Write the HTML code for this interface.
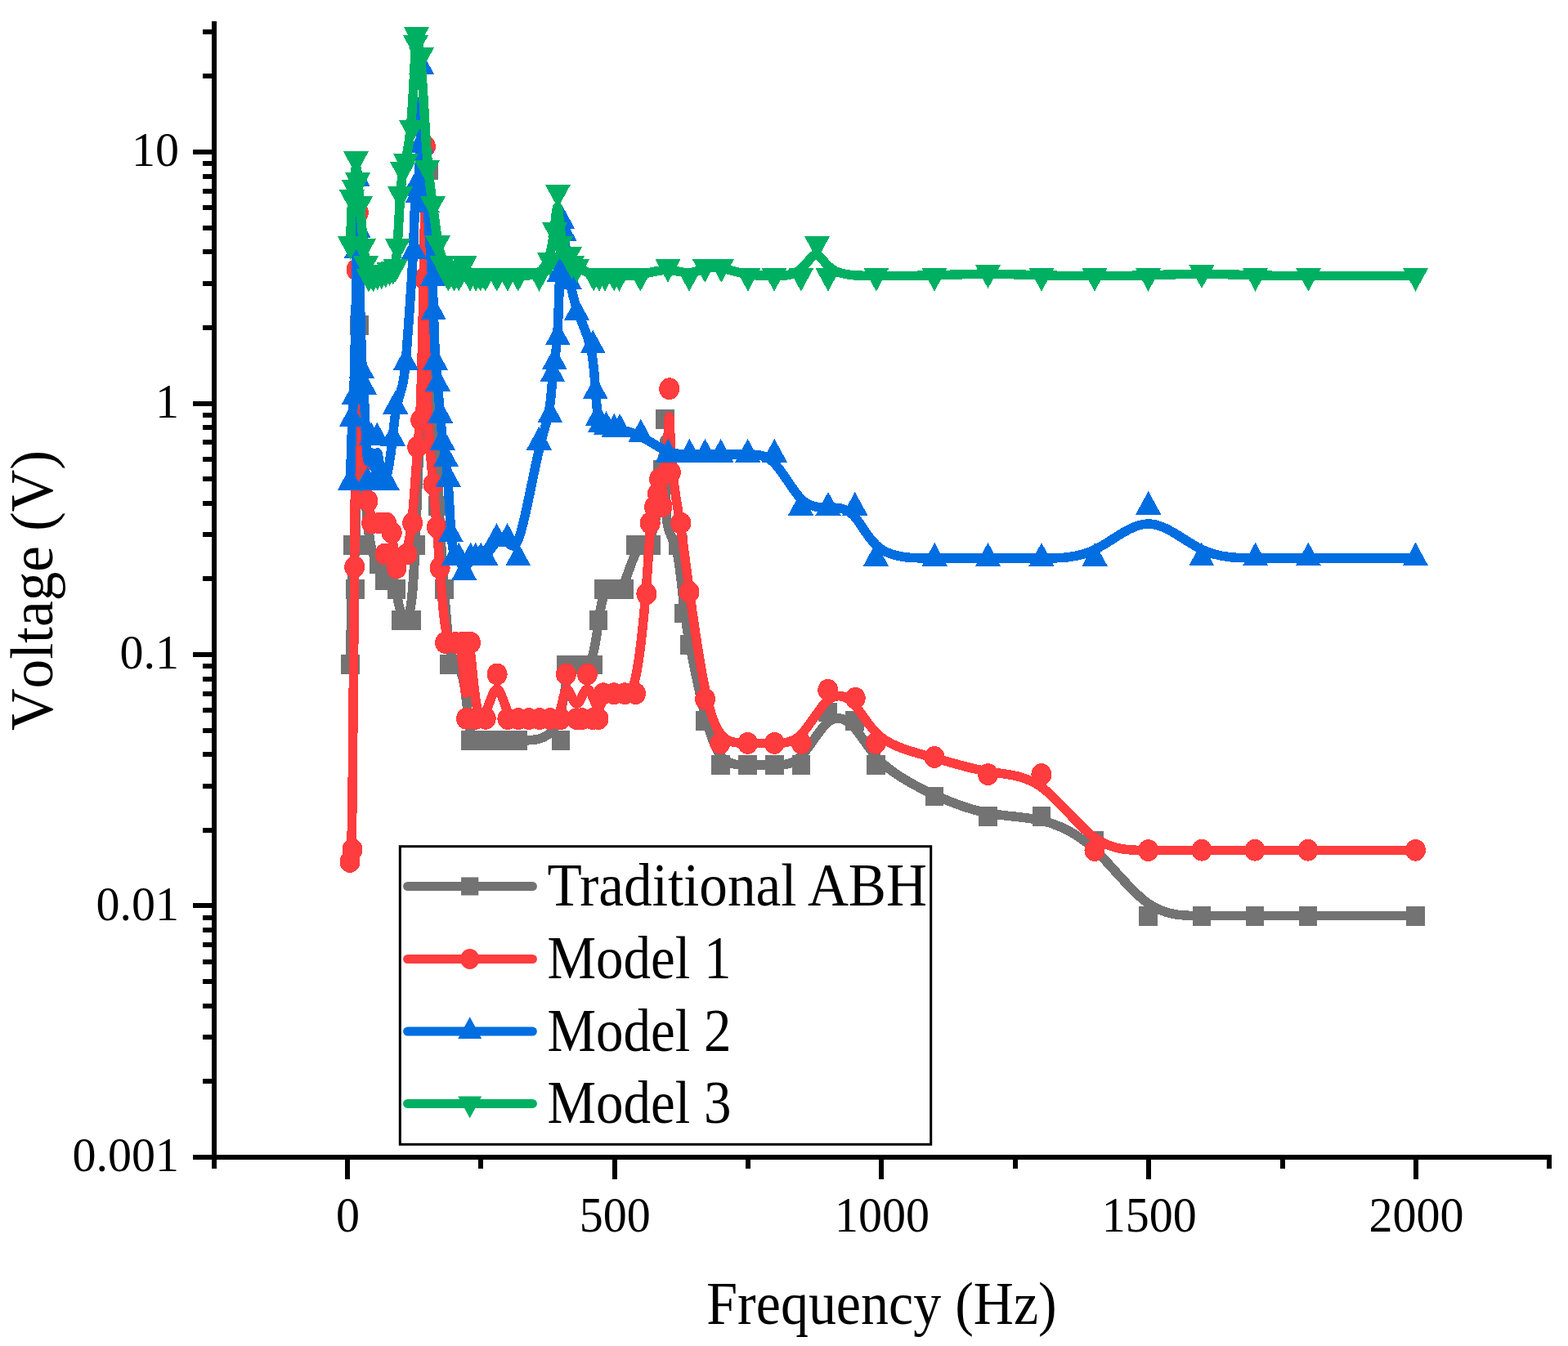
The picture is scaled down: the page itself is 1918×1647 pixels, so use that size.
<!DOCTYPE html>
<html lang="en">
<head>
<meta charset="utf-8">
<title>Voltage vs Frequency</title>
<style>
html,body{margin:0;padding:0;background:#fff;}
body{width:1918px;height:1647px;overflow:hidden;}
svg{display:block;}
</style>
</head>
<body>
<svg width="1918" height="1647" viewBox="0 0 1918 1647">
<rect width="1918" height="1647" fill="#fff"/>
<g id="traditional-abh" shape-rendering="crispEdges">
<path d="M428.4 813.25C429.35 764.47 430.3 715.68 431.32 700.29C432.33 684.9 433.42 702.9 434.78 658.04C436.13 613.18 437.77 505.47 439.85 496.47C441.93 487.47 444.47 577.18 448.4 625.89C452.33 674.6 457.67 682.3 461.5 689.48C465.33 696.67 467.67 703.33 469.83 705.83C472 708.33 474 706.67 476.5 708.48C479 710.3 482 715.6 484.4 724.58C486.8 733.57 488.6 746.23 491.67 752.57C494.73 758.9 499.07 758.9 502.12 743.57C505.18 728.23 506.97 697.57 510.48 605.72C514 513.87 519.25 360.83 523.62 352.81C528 344.78 531.5 481.77 534.71 567.28C537.92 652.8 540.83 686.85 543.23 719.27C545.63 751.68 547.52 782.47 551.23 798.15C554.93 813.83 560.47 814.42 564.23 823.88C568 833.33 570 851.67 571.58 866.82C573.17 881.97 574.33 893.93 577.07 899.92C579.8 905.9 584.1 905.9 588.35 905.9C592.6 905.9 596.8 905.9 601.07 905.9C605.33 905.9 609.67 905.9 614 905.9C618.33 905.9 622.67 905.9 625.9 905.9C629.13 905.9 631.27 905.9 641.1 905.9C650.93 905.9 668.47 905.9 678.3 890.5C688.13 875.1 690.27 844.3 694.1 828.9C697.93 813.5 703.47 813.5 709 813.5C714.53 813.5 720.07 813.5 723.9 804.42C727.73 795.33 729.87 777.17 731.98 761.72C734.1 746.27 736.2 733.53 739.37 727.17C742.53 720.8 746.77 720.8 751 720.8C755.23 720.8 759.47 720.8 763.88 711.82C768.3 702.83 772.9 684.87 778.38 675.88C783.87 666.9 790.23 666.9 795.05 657.9C799.87 648.9 803.13 630.9 805.45 615.58C807.77 600.27 809.13 587.63 810.32 570.97C811.5 554.3 812.5 533.6 813.17 539.6C813.83 545.6 814.17 578.3 814.42 601.15C814.67 624 814.83 637 817.38 646.32C819.93 655.63 824.87 661.27 828.5 678C832.13 694.73 834.47 722.57 836.75 742.87C839.03 763.17 841.27 775.93 845.57 797.9C849.87 819.87 856.23 851.03 862.55 875.6C868.87 900.17 875.13 918.13 883.8 927.12C892.47 936.1 903.53 936.1 914.52 936.1C925.5 936.1 936.4 936.1 947.3 936.1C958.2 936.1 969.1 936.1 979.93 925.33C990.77 914.57 1001.53 893.03 1012.45 884.05C1023.37 875.07 1034.43 878.63 1044.3 889.4C1054.17 900.17 1062.83 918.13 1079.08 933.5C1095.33 948.87 1119.17 961.63 1142 972.12C1164.83 982.6 1186.67 990.8 1208.48 994.9C1230.3 999 1252.1 999 1273.8 1004.02C1295.5 1009.03 1317.1 1019.07 1338.83 1039.35C1360.57 1059.63 1382.43 1090.17 1404.32 1105.42C1426.2 1120.67 1448.1 1120.63 1469.88 1120.62C1491.67 1120.6 1513.33 1120.6 1535 1120.6C1556.67 1120.6 1578.33 1120.6 1611.08 1120.6C1643.83 1120.6 1687.67 1120.6 1731.5 1120.6" fill="none" stroke="#737373" stroke-width="11.5" stroke-linecap="round" stroke-linejoin="round"/>
<path d="M417 801.35h22.8v23.8h-22.8zM419.85 655h22.8v23.8h-22.8zM423.1 709h22.8v23.8h-22.8zM428 385.85h22.8v23.8h-22.8zM435.6 655h22.8v23.8h-22.8zM451.6 678.1h22.8v23.8h-22.8zM458.6 698.1h22.8v23.8h-22.8zM464.6 693.1h22.8v23.8h-22.8zM473.6 709h22.8v23.8h-22.8zM479 747h22.8v23.8h-22.8zM492 747h22.8v23.8h-22.8zM497.35 655h22.8v23.8h-22.8zM513.1 195.9h22.8v23.8h-22.8zM523.6 606.85h22.8v23.8h-22.8zM532.35 709h22.8v23.8h-22.8zM538 801.35h22.8v23.8h-22.8zM564.1 894h22.8v23.8h-22.8zM577 894h22.8v23.8h-22.8zM589.6 894h22.8v23.8h-22.8zM602.6 894h22.8v23.8h-22.8zM615.6 894h22.8v23.8h-22.8zM622 894h22.8v23.8h-22.8zM674.6 894h22.8v23.8h-22.8zM681 801.6h22.8v23.8h-22.8zM697.6 801.6h22.8v23.8h-22.8zM714.2 801.6h22.8v23.8h-22.8zM720.6 747.1h22.8v23.8h-22.8zM726.9 708.9h22.8v23.8h-22.8zM739.6 708.9h22.8v23.8h-22.8zM752.3 708.9h22.8v23.8h-22.8zM766.1 655h22.8v23.8h-22.8zM785.2 655h22.8v23.8h-22.8zM795 601h22.8v23.8h-22.8zM799.1 563.1h22.8v23.8h-22.8zM802.1 501h22.8v23.8h-22.8zM818.4 655h22.8v23.8h-22.8zM825.4 738.5h22.8v23.8h-22.8zM832.1 776.8h22.8v23.8h-22.8zM851.2 870.3h22.8v23.8h-22.8zM870 924.2h22.8v23.8h-22.8zM903.2 924.2h22.8v23.8h-22.8zM935.9 924.2h22.8v23.8h-22.8zM968.6 924.2h22.8v23.8h-22.8zM1000.9 859.6h22.8v23.8h-22.8zM1034.1 870.3h22.8v23.8h-22.8zM1060.1 924.2h22.8v23.8h-22.8zM1131.6 962.5h22.8v23.8h-22.8zM1197.1 987.1h22.8v23.8h-22.8zM1262.5 987.1h22.8v23.8h-22.8zM1327.3 1017.2h22.8v23.8h-22.8zM1392.9 1108.8h22.8v23.8h-22.8zM1458.6 1108.7h22.8v23.8h-22.8zM1523.6 1108.7h22.8v23.8h-22.8zM1588.6 1108.7h22.8v23.8h-22.8zM1720.1 1108.7h22.8v23.8h-22.8z" fill="#737373"/>
</g>
<g id="model-1" shape-rendering="crispEdges">
<path d="M428 1054.4C429 1049.4 430 1044.4 430.96 984.29C431.92 924.18 432.83 808.97 433.67 690.73C434.5 572.5 435.25 451.25 436.03 378.96C436.8 306.67 437.6 283.33 438.27 301.67C438.93 320 439.47 380 440.23 426.67C441 473.33 442 506.67 443.67 535.5C445.33 564.33 447.67 588.67 449.6 605.33C451.53 622 453.07 631 455.57 635.5C458.07 640 461.53 640 464.52 640C467.5 640 470 640 472.37 641.95C474.73 643.9 476.97 647.8 479.05 656.97C481.13 666.13 483.07 680.57 486.2 684.95C489.33 689.33 493.67 683.67 496.96 674.5C500.25 665.33 502.5 652.67 504.6 630.82C506.7 608.97 508.65 577.93 510.29 556.93C511.93 535.93 513.27 524.97 514.57 490.65C515.87 456.33 517.13 398.67 518.12 342.87C519.1 287.07 519.8 233.13 520.15 231.3C520.5 229.47 520.5 279.73 520.58 333.2C520.67 386.67 520.83 443.33 522.42 487.08C524 530.83 527 561.67 529.23 585.83C531.47 610 532.93 627.5 534.28 644.58C535.63 661.67 536.87 678.33 538.57 701.9C540.27 725.47 542.43 755.93 545.58 771.17C548.73 786.4 552.87 786.4 556.27 786.4C559.67 786.4 562.33 786.4 564.58 801.88C566.83 817.37 568.67 848.33 569.67 848.33C570.67 848.33 570.83 817.37 571.67 801.88C572.5 786.4 574 786.4 575.88 801.88C577.77 817.37 580.03 848.33 583.15 863.82C586.27 879.3 590.23 879.3 594.53 870.25C598.83 861.2 603.47 843.1 607.92 843.15C612.37 843.2 616.63 861.4 620.95 870.5C625.27 879.6 629.63 879.6 633.98 879.6C638.33 879.6 642.67 879.6 647 879.6C651.33 879.6 655.67 879.6 660 879.6C664.33 879.6 668.67 879.6 673 879.6C677.33 879.6 681.67 879.6 684.9 870.5C688.13 861.4 690.27 843.2 693.5 843.2C696.73 843.2 701.07 861.4 705.38 861.4C709.7 861.4 714 843.2 718.43 843.2C722.87 843.2 727.43 861.4 730.68 865.35C733.93 869.3 735.87 859 739.03 853.85C742.2 848.7 746.6 848.7 751.02 848.7C755.43 848.7 759.87 848.7 764.28 848.7C768.7 848.7 773.1 848.7 777.53 828.38C781.97 808.07 786.43 767.43 789.38 732.65C792.33 697.87 793.77 668.93 795.37 651.2C796.97 633.47 798.73 626.93 800.28 620.93C801.83 614.93 803.17 609.47 804.18 603.78C805.2 598.1 805.9 592.2 807.87 587.85C809.83 583.5 813.07 580.7 815.08 562.27C817.1 543.83 817.9 509.77 818.58 509.77C819.27 509.77 819.83 543.83 822.18 571.22C824.53 598.6 828.67 619.3 832.43 643.7C836.2 668.1 839.6 696.2 844.55 732.1C849.5 768 856 811.7 862.32 842.55C868.63 873.4 874.77 891.4 883.45 900.4C892.13 909.4 903.37 909.4 914.43 909.4C925.5 909.4 936.4 909.4 947.33 909.4C958.27 909.4 969.23 909.4 980.15 898.55C991.07 887.7 1001.93 866 1012.93 856.82C1023.93 847.63 1035.07 850.97 1044.8 861.82C1054.53 872.67 1062.87 891.03 1079 903.05C1095.13 915.07 1119.07 920.73 1141.95 927.1C1164.83 933.47 1186.67 940.53 1208.48 944.07C1230.3 947.6 1252.1 947.6 1273.85 963.1C1295.6 978.6 1317.3 1009.6 1339.08 1025.1C1360.87 1040.6 1382.73 1040.6 1404.57 1040.54C1426.4 1040.48 1448.2 1040.37 1469.93 1040.31C1491.67 1040.25 1513.33 1040.25 1535 1040.25C1556.67 1040.25 1578.33 1040.25 1611.08 1040.25C1643.83 1040.25 1687.67 1040.25 1731.5 1040.25" fill="none" stroke="#ff3c3e" stroke-width="11.5" stroke-linecap="round" stroke-linejoin="round"/>
<path d="M415.5 1054.4a12.5 13.4 0 1 0 25 0a12.5 13.4 0 1 0 -25 0zM418.5 1039.4a12.5 13.4 0 1 0 25 0a12.5 13.4 0 1 0 -25 0zM421.25 693.75a12.5 13.4 0 1 0 25 0a12.5 13.4 0 1 0 -25 0zM423.5 330a12.5 13.4 0 1 0 25 0a12.5 13.4 0 1 0 -25 0zM425.9 260a12.5 13.4 0 1 0 25 0a12.5 13.4 0 1 0 -25 0zM437.5 613a12.5 13.4 0 1 0 25 0a12.5 13.4 0 1 0 -25 0zM442.1 640a12.5 13.4 0 1 0 25 0a12.5 13.4 0 1 0 -25 0zM452.5 640a12.5 13.4 0 1 0 25 0a12.5 13.4 0 1 0 -25 0zM460 640a12.5 13.4 0 1 0 25 0a12.5 13.4 0 1 0 -25 0zM466.7 651.7a12.5 13.4 0 1 0 25 0a12.5 13.4 0 1 0 -25 0zM458.5 678a12.5 13.4 0 1 0 25 0a12.5 13.4 0 1 0 -25 0zM472.5 695a12.5 13.4 0 1 0 25 0a12.5 13.4 0 1 0 -25 0zM485.5 678a12.5 13.4 0 1 0 25 0a12.5 13.4 0 1 0 -25 0zM492.25 640a12.5 13.4 0 1 0 25 0a12.5 13.4 0 1 0 -25 0zM498.1 546.9a12.5 13.4 0 1 0 25 0a12.5 13.4 0 1 0 -25 0zM502.1 514a12.5 13.4 0 1 0 25 0a12.5 13.4 0 1 0 -25 0zM505.9 341a12.5 13.4 0 1 0 25 0a12.5 13.4 0 1 0 -25 0zM508 179.2a12.5 13.4 0 1 0 25 0a12.5 13.4 0 1 0 -25 0zM517.5 592.5a12.5 13.4 0 1 0 25 0a12.5 13.4 0 1 0 -25 0zM521.9 645a12.5 13.4 0 1 0 25 0a12.5 13.4 0 1 0 -25 0zM525.6 695a12.5 13.4 0 1 0 25 0a12.5 13.4 0 1 0 -25 0zM532.1 786.4a12.5 13.4 0 1 0 25 0a12.5 13.4 0 1 0 -25 0zM544.5 786.4a12.5 13.4 0 1 0 25 0a12.5 13.4 0 1 0 -25 0zM552.5 786.4a12.5 13.4 0 1 0 25 0a12.5 13.4 0 1 0 -25 0zM558 879.3a12.5 13.4 0 1 0 25 0a12.5 13.4 0 1 0 -25 0zM558.5 786.4a12.5 13.4 0 1 0 25 0a12.5 13.4 0 1 0 -25 0zM563 786.4a12.5 13.4 0 1 0 25 0a12.5 13.4 0 1 0 -25 0zM569.8 879.3a12.5 13.4 0 1 0 25 0a12.5 13.4 0 1 0 -25 0zM581.7 879.3a12.5 13.4 0 1 0 25 0a12.5 13.4 0 1 0 -25 0zM595.6 825a12.5 13.4 0 1 0 25 0a12.5 13.4 0 1 0 -25 0zM608.4 879.6a12.5 13.4 0 1 0 25 0a12.5 13.4 0 1 0 -25 0zM621.5 879.6a12.5 13.4 0 1 0 25 0a12.5 13.4 0 1 0 -25 0zM634.5 879.6a12.5 13.4 0 1 0 25 0a12.5 13.4 0 1 0 -25 0zM647.5 879.6a12.5 13.4 0 1 0 25 0a12.5 13.4 0 1 0 -25 0zM660.5 879.6a12.5 13.4 0 1 0 25 0a12.5 13.4 0 1 0 -25 0zM673.5 879.6a12.5 13.4 0 1 0 25 0a12.5 13.4 0 1 0 -25 0zM679.9 825a12.5 13.4 0 1 0 25 0a12.5 13.4 0 1 0 -25 0zM692.9 879.6a12.5 13.4 0 1 0 25 0a12.5 13.4 0 1 0 -25 0zM699.5 879.6a12.5 13.4 0 1 0 25 0a12.5 13.4 0 1 0 -25 0zM705.8 825a12.5 13.4 0 1 0 25 0a12.5 13.4 0 1 0 -25 0zM712.5 879.6a12.5 13.4 0 1 0 25 0a12.5 13.4 0 1 0 -25 0zM719.5 879.6a12.5 13.4 0 1 0 25 0a12.5 13.4 0 1 0 -25 0zM725.3 848.7a12.5 13.4 0 1 0 25 0a12.5 13.4 0 1 0 -25 0zM738.5 848.7a12.5 13.4 0 1 0 25 0a12.5 13.4 0 1 0 -25 0zM751.8 848.7a12.5 13.4 0 1 0 25 0a12.5 13.4 0 1 0 -25 0zM765 848.7a12.5 13.4 0 1 0 25 0a12.5 13.4 0 1 0 -25 0zM778.4 726.8a12.5 13.4 0 1 0 25 0a12.5 13.4 0 1 0 -25 0zM782.7 640a12.5 13.4 0 1 0 25 0a12.5 13.4 0 1 0 -25 0zM788 620.4a12.5 13.4 0 1 0 25 0a12.5 13.4 0 1 0 -25 0zM792 604a12.5 13.4 0 1 0 25 0a12.5 13.4 0 1 0 -25 0zM794.1 586.3a12.5 13.4 0 1 0 25 0a12.5 13.4 0 1 0 -25 0zM797.5 619.8a12.5 13.4 0 1 0 25 0a12.5 13.4 0 1 0 -25 0zM803.8 577.9a12.5 13.4 0 1 0 25 0a12.5 13.4 0 1 0 -25 0zM806.2 475.7a12.5 13.4 0 1 0 25 0a12.5 13.4 0 1 0 -25 0zM807.9 577.9a12.5 13.4 0 1 0 25 0a12.5 13.4 0 1 0 -25 0zM820.3 640a12.5 13.4 0 1 0 25 0a12.5 13.4 0 1 0 -25 0zM830.5 724.3a12.5 13.4 0 1 0 25 0a12.5 13.4 0 1 0 -25 0zM850 855.4a12.5 13.4 0 1 0 25 0a12.5 13.4 0 1 0 -25 0zM868.4 909.4a12.5 13.4 0 1 0 25 0a12.5 13.4 0 1 0 -25 0zM902.1 909.4a12.5 13.4 0 1 0 25 0a12.5 13.4 0 1 0 -25 0zM934.8 909.4a12.5 13.4 0 1 0 25 0a12.5 13.4 0 1 0 -25 0zM967.7 909.4a12.5 13.4 0 1 0 25 0a12.5 13.4 0 1 0 -25 0zM1000.3 844.3a12.5 13.4 0 1 0 25 0a12.5 13.4 0 1 0 -25 0zM1033.7 854.3a12.5 13.4 0 1 0 25 0a12.5 13.4 0 1 0 -25 0zM1058.7 909.4a12.5 13.4 0 1 0 25 0a12.5 13.4 0 1 0 -25 0zM1130.5 926.4a12.5 13.4 0 1 0 25 0a12.5 13.4 0 1 0 -25 0zM1196 947.6a12.5 13.4 0 1 0 25 0a12.5 13.4 0 1 0 -25 0zM1261.4 947.6a12.5 13.4 0 1 0 25 0a12.5 13.4 0 1 0 -25 0zM1326.5 1040.6a12.5 13.4 0 1 0 25 0a12.5 13.4 0 1 0 -25 0zM1392.1 1040.6a12.5 13.4 0 1 0 25 0a12.5 13.4 0 1 0 -25 0zM1457.5 1040.25a12.5 13.4 0 1 0 25 0a12.5 13.4 0 1 0 -25 0zM1522.5 1040.25a12.5 13.4 0 1 0 25 0a12.5 13.4 0 1 0 -25 0zM1587.5 1040.25a12.5 13.4 0 1 0 25 0a12.5 13.4 0 1 0 -25 0zM1719 1040.25a12.5 13.4 0 1 0 25 0a12.5 13.4 0 1 0 -25 0z" fill="#ff3c3e"/>
</g>
<g id="model-2" shape-rendering="crispEdges">
<path d="M428.5 590.1C429.2 564.07 429.9 538.03 430.73 520.52C431.57 503 432.53 494 433.5 459.7C434.47 425.4 435.43 365.8 436.08 321.45C436.73 277.1 437.07 248 437.36 243.91C437.65 239.82 437.9 260.73 438.72 299.77C439.53 338.8 440.92 395.95 442.11 427.84C443.3 459.73 444.3 466.37 445.5 489.2C446.7 512.03 448.1 551.07 449.58 561.53C451.07 572 452.63 553.9 453.97 553.9C455.3 553.9 456.4 572 457.57 572C458.75 572 460 553.9 461.42 553.9C462.83 553.9 464.42 572 466.4 581.05C468.38 590.1 470.77 590.1 473.22 581.17C475.67 572.23 478.18 554.37 479.92 538.85C481.67 523.33 482.63 510.17 484.85 499.08C487.07 488 490.53 479 492.67 470.02C494.8 461.03 495.6 452.07 497.67 424.92C499.73 397.77 503.07 352.43 504.9 316.93C506.73 281.43 507.07 255.77 507.92 244.25C508.77 232.73 510.13 235.37 511.35 226.53C512.57 217.7 513.63 197.4 514.3 171.28C514.97 145.17 515.23 113.23 516.45 125.38C517.67 137.53 519.83 193.77 522.13 236.95C524.43 280.13 526.87 310.27 528.25 332.21C529.63 354.15 529.97 367.9 530.48 385.02C531 402.13 531.7 422.62 532.55 437.21C533.4 451.8 534.4 460.5 535.42 471.32C536.43 482.13 537.47 495.07 538.44 507.03C539.42 519 540.33 530 541.5 538.93C542.67 547.87 544.08 554.73 545.25 562.23C546.42 569.73 547.33 577.87 548.32 593.23C549.3 608.6 550.35 631.2 551.52 647.35C552.68 663.5 553.97 673.2 555.61 678.05C557.25 682.9 559.25 682.9 561.33 685.82C563.42 688.73 565.58 694.57 567.98 694.57C570.37 694.57 572.98 688.73 575.29 685.82C577.6 682.9 579.6 682.9 581.68 682.9C583.77 682.9 585.93 682.9 588.02 682.9C590.1 682.9 592.1 682.9 595.33 678.95C598.57 675 603.03 667.1 607.45 663.15C611.87 659.2 616.23 659.2 620.61 663.15C624.98 667.1 629.37 675 635.83 655.3C642.3 635.6 650.85 588.3 657.38 559.13C663.9 529.97 668.4 518.93 671.15 505.08C673.9 491.23 674.9 474.57 675.82 463.73C676.73 452.9 677.57 447.9 678.65 440.4C679.73 432.9 681.07 422.9 682.08 404.92C683.1 386.93 683.8 360.97 684.63 337.15C685.47 313.33 686.43 291.67 687.4 283.48C688.37 275.3 689.33 280.6 690.83 293.05C692.33 305.5 694.37 325.1 696.9 341.17C699.43 357.23 702.47 369.77 707.27 382.8C712.08 395.83 718.67 409.37 722.46 425.47C726.25 441.57 727.25 460.23 728.25 475.03C729.25 489.82 730.25 500.73 731.27 507.55C732.3 514.37 733.35 517.08 735.07 518.86C736.8 520.63 739.2 521.47 742.01 522.37C744.82 523.27 748.03 524.23 750.78 524.72C753.53 525.2 755.82 525.2 761.23 526.32C766.65 527.43 775.2 529.67 785.06 534.8C794.92 539.93 806.08 547.97 816.02 551.98C825.97 556 834.68 556 842.23 556C849.77 556 856.13 556 862.5 556C868.87 556 875.23 556 883.92 556C892.6 556 903.6 556 914.55 556C925.5 556 936.4 556 947.22 566.83C958.03 577.67 968.77 599.33 979.72 610.17C990.67 621 1001.83 621 1012.88 621C1023.93 621 1034.87 621 1044.6 631.35C1054.33 641.7 1062.87 662.4 1079.1 672.75C1095.33 683.1 1119.27 683.1 1142.12 683.1C1164.97 683.1 1186.73 683.1 1208.53 683.1C1230.33 683.1 1252.17 683.1 1273.93 683.1C1295.7 683.1 1317.4 683.1 1339.18 672.58C1360.97 662.07 1382.83 641.03 1404.62 640.98C1426.4 640.93 1448.1 661.87 1469.92 672.33C1491.73 682.8 1513.67 682.8 1535.43 682.8C1557.2 682.8 1578.8 682.8 1611.45 682.8C1644.1 682.8 1687.8 682.8 1731.5 682.8" fill="none" stroke="#006ee1" stroke-width="11.5" stroke-linecap="round" stroke-linejoin="round"/>
<path d="M428.5 570.93L444.1 599.68L412.9 599.68zM430.6 492.83L446.2 521.58L415 521.58zM433.5 465.83L449.1 494.58L417.9 494.58zM436.4 287.03L452 315.78L420.8 315.78zM437.4 199.73L453 228.48L421.8 228.48zM438.15 262.48L453.75 291.23L422.55 291.23zM442.3 433.93L457.9 462.68L426.7 462.68zM445.3 453.83L460.9 482.58L429.7 482.58zM449.5 570.93L465.1 599.68L433.9 599.68zM454.2 516.63L469.8 545.38L438.6 545.38zM457.5 570.93L473.1 599.68L441.9 599.68zM461.25 516.63L476.85 545.38L445.65 545.38zM466 570.93L481.6 599.68L450.4 599.68zM473.15 570.93L488.75 599.68L457.55 599.68zM480.7 517.33L496.3 546.08L465.1 546.08zM483.6 477.83L499.2 506.58L468 506.58zM496.4 423.93L512 452.68L480.8 452.68zM506.4 287.93L522 316.68L490.8 316.68zM507.4 210.93L523 239.68L491.8 239.68zM511.5 218.83L527.1 247.58L495.9 247.58zM514.7 157.93L530.3 186.68L499.1 186.68zM515.5 62.13L531.1 90.88L499.9 90.88zM522 230.83L537.6 259.58L506.4 259.58zM529.3 321.23L544.9 349.98L513.7 349.98zM530.3 362.48L545.9 391.23L514.7 391.23zM532.4 423.93L548 452.68L516.8 452.68zM535.4 450.03L551 478.78L519.8 478.78zM538.5 488.83L554.1 517.58L522.9 517.58zM541.25 521.83L556.85 550.58L525.65 550.58zM545.5 542.43L561.1 571.18L529.9 571.18zM548.25 566.83L563.85 595.58L532.65 595.58zM551.4 634.63L567 663.38L535.8 663.38zM555.25 663.73L570.85 692.48L539.65 692.48zM561.25 663.73L576.85 692.48L545.65 692.48zM567.75 681.23L583.35 709.98L552.15 709.98zM575.6 663.73L591.2 692.48L560 692.48zM581.6 663.73L597.2 692.48L566 692.48zM588.1 663.73L603.7 692.48L572.5 692.48zM594.1 663.73L609.7 692.48L578.5 692.48zM607.5 640.03L623.1 668.78L591.9 668.78zM620.6 640.03L636.2 668.78L605 668.78zM633.75 663.73L649.35 692.48L618.15 692.48zM659.4 521.83L675 550.58L643.8 550.58zM672.9 488.73L688.5 517.48L657.3 517.48zM675.9 438.73L691.5 467.48L660.3 467.48zM678.4 423.73L694 452.48L662.8 452.48zM682.4 393.73L698 422.48L666.8 422.48zM684.5 315.83L700.1 344.58L668.9 344.58zM687.4 250.83L703 279.58L671.8 279.58zM690.3 266.73L705.9 295.48L674.7 295.48zM696.4 325.53L712 354.28L680.8 354.28zM705.5 363.13L721.1 391.88L689.9 391.88zM725.25 403.73L740.85 432.48L709.65 432.48zM728.25 459.73L743.85 488.48L712.65 488.48zM731.25 492.48L746.85 521.23L715.65 521.23zM734.4 500.63L750 529.38L718.8 529.38zM741.6 503.13L757.2 531.88L726 531.88zM751.25 506.03L766.85 534.78L735.65 534.78zM758.1 506.03L773.7 534.78L742.5 534.78zM783.75 512.73L799.35 541.48L768.15 541.48zM817.25 536.83L832.85 565.58L801.65 565.58zM843.4 536.83L859 565.58L827.8 565.58zM862.5 536.83L878.1 565.58L846.9 565.58zM881.6 536.83L897.2 565.58L866 565.58zM914.6 536.83L930.2 565.58L899 565.58zM947.3 536.83L962.9 565.58L931.7 565.58zM979.5 601.83L995.1 630.58L963.9 630.58zM1013 601.83L1028.6 630.58L997.4 630.58zM1045.8 601.83L1061.4 630.58L1030.2 630.58zM1071.4 663.93L1087 692.68L1055.8 692.68zM1143.2 663.93L1158.8 692.68L1127.6 692.68zM1208.5 663.93L1224.1 692.68L1192.9 692.68zM1274 663.93L1289.6 692.68L1258.4 692.68zM1339.1 663.93L1354.7 692.68L1323.5 692.68zM1404.7 600.83L1420.3 629.58L1389.1 629.58zM1469.8 663.63L1485.4 692.38L1454.2 692.38zM1535.6 663.63L1551.2 692.38L1520 692.38zM1600.4 663.63L1616 692.38L1584.8 692.38zM1731.5 663.63L1747.1 692.38L1715.9 692.38z" fill="#006ee1"/>
</g>
<g id="model-3" shape-rendering="crispEdges">
<path d="M428.5 298.8C429.13 279.8 429.77 260.8 430.58 249.3C431.4 237.8 432.4 233.8 433.23 225.93C434.07 218.07 434.73 206.33 435.42 204.82C436.1 203.3 436.8 212 437.65 221.18C438.5 230.37 439.5 240.03 440.65 253.53C441.8 267.03 443.1 284.37 444.25 296.53C445.4 308.7 446.4 315.7 447.48 321.82C448.57 327.93 449.73 333.17 451.28 335.78C452.83 338.4 454.77 338.4 456.57 338.08C458.37 337.77 460.03 337.13 461.7 336.57C463.37 336 465.03 335.5 466.7 334.98C468.37 334.47 470.03 333.93 471.67 333.27C473.3 332.6 474.9 331.8 476.43 331.1C477.97 330.4 479.43 329.8 480.67 329.02C481.9 328.23 482.9 327.27 483.82 322.68C484.73 318.1 485.57 309.9 486.48 295.12C487.4 280.33 488.4 258.97 489.43 243.3C490.47 227.63 491.53 217.67 492.7 210.98C493.87 204.3 495.13 200.9 496.97 192.38C498.8 183.87 501.2 170.23 503.2 146.07C505.2 121.9 506.8 87.2 507.77 68.18C508.73 49.17 509.07 45.83 510.25 48.33C511.43 50.83 513.47 59.17 515.63 86.33C517.8 113.5 520.1 159.5 522.42 189.87C524.73 220.23 527.07 234.97 529.23 250.33C531.4 265.7 533.4 281.7 535.35 293.87C537.3 306.03 539.2 314.37 542.47 319.17C545.73 323.97 550.37 325.23 554.87 325.23C559.37 325.23 563.73 323.97 567.07 325.8C570.4 327.63 572.7 332.57 575 335.03C577.3 337.5 579.6 337.5 581.73 337.5C583.85 337.5 585.8 337.5 587.77 337.5C589.75 337.5 591.75 337.5 595.08 337.5C598.42 337.5 603.08 337.5 607.61 337.5C612.13 337.5 616.52 337.5 620.85 337.5C625.18 337.5 629.47 337.5 635.92 337.5C642.37 337.5 650.98 337.5 657.44 334.37C663.9 331.23 668.2 324.97 671.35 315.65C674.5 306.33 676.5 293.97 678.15 280.08C679.8 266.2 681.1 250.8 682.27 253.6C683.43 256.4 684.47 277.4 686.8 290.12C689.13 302.85 692.77 307.3 695.1 311.33C697.43 315.37 698.47 318.98 700 321.46C701.53 323.93 703.57 325.27 708.02 327.75C712.48 330.23 719.37 333.87 723.95 335.68C728.53 337.5 730.82 337.5 733.11 337.5C735.4 337.5 737.7 337.5 740.73 337.5C743.75 337.5 747.5 337.5 750.42 337.5C753.33 337.5 755.42 337.5 760.76 337.5C766.1 337.5 774.7 337.5 784.62 335.7C794.53 333.9 805.77 330.3 815.72 330.3C825.67 330.3 834.33 333.9 841.88 333.9C849.43 333.9 855.87 330.3 862.42 328.5C868.97 326.7 875.63 326.7 884.4 328.5C893.17 330.3 904.03 333.9 914.82 335.7C925.6 337.5 936.3 337.5 947.12 337.5C957.93 337.5 968.87 337.5 977.62 331C986.37 324.5 992.93 311.5 998.45 311.5C1003.97 311.5 1008.43 324.5 1020.48 331C1032.53 337.5 1052.17 337.5 1073.85 337.5C1095.53 337.5 1119.27 337.5 1142.05 336.9C1164.83 336.3 1186.67 335.1 1208.5 335.1C1230.33 335.1 1252.17 336.3 1273.92 336.9C1295.67 337.5 1317.33 337.5 1339.1 337.5C1360.87 337.5 1382.73 337.5 1404.57 336.9C1426.4 336.3 1448.2 335.1 1470.03 335.1C1491.87 335.1 1513.73 336.3 1535.47 336.9C1557.2 337.5 1578.8 337.5 1611.45 337.5C1644.1 337.5 1687.8 337.5 1731.5 337.5" fill="none" stroke="#00b062" stroke-width="11.5" stroke-linecap="round" stroke-linejoin="round"/>
<path d="M412.9 289.22L444.1 289.22L428.5 317.97zM414.8 232.22L446 232.22L430.4 260.97zM417.8 220.22L449 220.22L433.4 248.97zM419.8 185.02L451 185.02L435.4 213.77zM421.9 211.12L453.1 211.12L437.5 239.87zM424.9 240.12L456.1 240.12L440.5 268.87zM428.8 292.12L460 292.12L444.4 320.87zM431.8 313.12L463 313.12L447.4 341.87zM435.3 328.82L466.5 328.82L450.9 357.57zM441.1 328.82L472.3 328.82L456.7 357.57zM446.1 326.92L477.3 326.92L461.7 355.67zM451.1 325.42L482.3 325.42L466.7 354.17zM456.1 323.82L487.3 323.82L471.7 352.57zM460.9 321.42L492.1 321.42L476.5 350.17zM465.3 319.62L496.5 319.62L480.9 348.37zM468.3 316.72L499.5 316.72L483.9 345.47zM470.8 292.12L502 292.12L486.4 320.87zM473.8 228.02L505 228.02L489.4 256.77zM477 198.12L508.2 198.12L492.6 226.87zM480.8 187.92L512 187.92L496.4 216.67zM488 147.02L519.2 147.02L503.6 175.77zM492.8 42.92L524 42.92L508.4 71.67zM493.8 32.92L525 32.92L509.4 61.67zM499.9 57.92L531.1 57.92L515.5 86.67zM506.8 195.92L538 195.92L522.4 224.67zM513.8 240.12L545 240.12L529.4 268.87zM519.8 288.12L551 288.12L535.4 316.87zM525.5 313.12L556.7 313.12L541.1 341.87zM532.7 327.92L563.9 327.92L548.3 356.67zM539.8 327.92L571 327.92L555.4 356.67zM545.65 327.92L576.85 327.92L561.25 356.67zM552.5 313.12L583.7 313.12L568.1 341.87zM559.4 327.92L590.6 327.92L575 356.67zM566.3 327.92L597.5 327.92L581.9 356.67zM572.15 327.92L603.35 327.92L587.75 356.67zM578.15 327.92L609.35 327.92L593.75 356.67zM592.15 327.92L623.35 327.92L607.75 356.67zM605.3 327.92L636.5 327.92L620.9 356.67zM618.15 327.92L649.35 327.92L633.75 356.67zM644 327.92L675.2 327.92L659.6 356.67zM656.9 309.12L688.1 309.12L672.5 337.87zM662.9 272.02L694.1 272.02L678.5 300.77zM666.8 225.82L698 225.82L682.4 254.57zM669.9 288.82L701.1 288.82L685.5 317.57zM680.8 302.17L712 302.17L696.4 330.92zM683.9 313.02L715.1 313.02L699.5 341.77zM690 317.02L721.2 317.02L705.6 345.77zM710.65 327.92L741.85 327.92L726.25 356.67zM717.5 327.92L748.7 327.92L733.1 356.67zM724.4 327.92L755.6 327.92L740 356.67zM735.65 327.92L766.85 327.92L751.25 356.67zM741.9 327.92L773.1 327.92L757.5 356.67zM767.7 327.92L798.9 327.92L783.3 356.67zM801.4 317.12L832.6 317.12L817 345.87zM827.4 327.92L858.6 327.92L843 356.67zM846.7 317.12L877.9 317.12L862.3 345.87zM866.7 317.12L897.9 317.12L882.3 345.87zM899.3 327.92L930.5 327.92L914.9 356.67zM931.4 327.92L962.6 327.92L947 356.67zM964.2 327.92L995.4 327.92L979.8 356.67zM983.9 288.92L1015.1 288.92L999.5 317.67zM997.3 327.92L1028.5 327.92L1012.9 356.67zM1056.2 327.92L1087.4 327.92L1071.8 356.67zM1127.4 327.92L1158.6 327.92L1143 356.67zM1192.9 324.32L1224.1 324.32L1208.5 353.07zM1258.4 327.92L1289.6 327.92L1274 356.67zM1323.4 327.92L1354.6 327.92L1339 356.67zM1389 327.92L1420.2 327.92L1404.6 356.67zM1454.4 324.32L1485.6 324.32L1470 353.07zM1520 327.92L1551.2 327.92L1535.6 356.67zM1584.8 327.92L1616 327.92L1600.4 356.67zM1715.9 327.92L1747.1 327.92L1731.5 356.67z" fill="#00b062"/>
</g>
<g id="axes" fill="#000" shape-rendering="crispEdges">
<rect x="259" y="26" width="6" height="1393"/>
<rect x="259" y="1413" width="1639" height="6"/>
<rect x="236" y="1413" width="24" height="6"/>
<rect x="248" y="1320" width="12" height="6"/>
<rect x="248" y="1266" width="12" height="6"/>
<rect x="248" y="1228" width="12" height="6"/>
<rect x="248" y="1198" width="12" height="6"/>
<rect x="248" y="1174" width="12" height="6"/>
<rect x="248" y="1153" width="12" height="6"/>
<rect x="248" y="1135" width="12" height="6"/>
<rect x="248" y="1120" width="12" height="6"/>
<rect x="236" y="1105" width="24" height="6"/>
<rect x="248" y="1013" width="12" height="6"/>
<rect x="248" y="959" width="12" height="6"/>
<rect x="248" y="920" width="12" height="6"/>
<rect x="248" y="891" width="12" height="6"/>
<rect x="248" y="866" width="12" height="6"/>
<rect x="248" y="846" width="12" height="6"/>
<rect x="248" y="828" width="12" height="6"/>
<rect x="248" y="812" width="12" height="6"/>
<rect x="236" y="798" width="24" height="6"/>
<rect x="248" y="705" width="12" height="6"/>
<rect x="248" y="651" width="12" height="6"/>
<rect x="248" y="613" width="12" height="6"/>
<rect x="248" y="583" width="12" height="6"/>
<rect x="248" y="559" width="12" height="6"/>
<rect x="248" y="538" width="12" height="6"/>
<rect x="248" y="520" width="12" height="6"/>
<rect x="248" y="505" width="12" height="6"/>
<rect x="236" y="491" width="24" height="6"/>
<rect x="248" y="398" width="12" height="6"/>
<rect x="248" y="344" width="12" height="6"/>
<rect x="248" y="305" width="12" height="6"/>
<rect x="248" y="276" width="12" height="6"/>
<rect x="248" y="251" width="12" height="6"/>
<rect x="248" y="231" width="12" height="6"/>
<rect x="248" y="213" width="12" height="6"/>
<rect x="248" y="197" width="12" height="6"/>
<rect x="236" y="183" width="24" height="6"/>
<rect x="248" y="90" width="12" height="6"/>
<rect x="248" y="36" width="12" height="6"/>
<rect x="259" y="1419" width="6" height="11"/>
<rect x="422" y="1419" width="6" height="24"/>
<rect x="585" y="1419" width="6" height="11"/>
<rect x="749" y="1419" width="6" height="24"/>
<rect x="912" y="1419" width="6" height="11"/>
<rect x="1075" y="1419" width="6" height="24"/>
<rect x="1239" y="1419" width="6" height="11"/>
<rect x="1402" y="1419" width="6" height="24"/>
<rect x="1566" y="1419" width="6" height="11"/>
<rect x="1729" y="1419" width="6" height="24"/>
<rect x="1892" y="1419" width="6" height="11"/>
</g>
<g id="labels" font-family="'Liberation Serif', serif" fill="#000">
<text transform="translate(219 203.3) scale(1.0000 1.0320)" font-size="58" text-anchor="end">10</text>
<text transform="translate(219 510.8) scale(1.0000 1.0320)" font-size="58" text-anchor="end">1</text>
<text transform="translate(219 818.3) scale(1.0000 1.0320)" font-size="58" text-anchor="end">0.1</text>
<text transform="translate(219 1125.8) scale(1.0000 1.0320)" font-size="58" text-anchor="end">0.01</text>
<text transform="translate(219 1433.3) scale(1.0000 1.0320)" font-size="58" text-anchor="end">0.001</text>
<text transform="translate(425.5 1506.5) scale(1.0000 1.0500)" font-size="58" text-anchor="middle">0</text>
<text transform="translate(752.25 1506.5) scale(1.0000 1.0500)" font-size="58" text-anchor="middle">500</text>
<text transform="translate(1079 1506.5) scale(1.0000 1.0500)" font-size="58" text-anchor="middle">1000</text>
<text transform="translate(1405.75 1506.5) scale(1.0000 1.0500)" font-size="58" text-anchor="middle">1500</text>
<text transform="translate(1732.5 1506.5) scale(1.0000 1.0500)" font-size="58" text-anchor="middle">2000</text>
<text transform="translate(1078.5 1619.5) scale(0.9250 1.0000)" font-size="73.5" text-anchor="middle">Frequency (Hz)</text>
<text style="font-kerning:none" transform="translate(63.6 722.5) rotate(-90) scale(0.9720 1.0000)" font-size="73.5" text-anchor="middle">Voltage (V)</text>
</g>
<g id="legend">
<rect x="489.3" y="1035.7" width="649.4" height="364.6" fill="#fff" stroke="#000" stroke-width="3"/>
<path d="M498.6 1084.5H651.4" stroke="#737373" stroke-width="11" stroke-linecap="round" fill="none"/>
<path d="M563.3 1072.6h22.8v23.8h-22.8z" fill="#737373" transform="translate(574.7 1084.5) scale(0.93) translate(-574.7 -1084.5)"/>
<path d="M498.6 1173.5H651.4" stroke="#ff3c3e" stroke-width="11" stroke-linecap="round" fill="none"/>
<path d="M562.2 1173.5a12.5 13.4 0 1 0 25 0a12.5 13.4 0 1 0 -25 0z" fill="#ff3c3e" transform="translate(574.7 1173.5) scale(0.93) translate(-574.7 -1173.5)"/>
<path d="M498.6 1262.1H651.4" stroke="#006ee1" stroke-width="11" stroke-linecap="round" fill="none"/>
<path d="M574.7 1242.93L590.3 1271.68L559.1 1271.68z" fill="#006ee1" transform="translate(574.7 1262.1) scale(0.93) translate(-574.7 -1262.1)"/>
<path d="M498.6 1350.4H651.4" stroke="#00b062" stroke-width="11" stroke-linecap="round" fill="none"/>
<path d="M559.1 1340.82L590.3 1340.82L574.7 1369.57z" fill="#00b062" transform="translate(574.7 1350.4) scale(0.93) translate(-574.7 -1350.4)"/>
<g font-family="'Liberation Serif', serif" fill="#000">
<text transform="translate(669.5 1107.9) scale(0.9350 1.0000)" font-size="74" text-anchor="start">Traditional ABH</text>
<text transform="translate(669.5 1196.9) scale(0.9050 1.0000)" font-size="74" text-anchor="start">Model 1</text>
<text transform="translate(669.5 1285.5) scale(0.9050 1.0000)" font-size="74" text-anchor="start">Model 2</text>
<text transform="translate(669.5 1373.8) scale(0.9050 1.0000)" font-size="74" text-anchor="start">Model 3</text>
</g></g>
</svg>
</body>
</html>
